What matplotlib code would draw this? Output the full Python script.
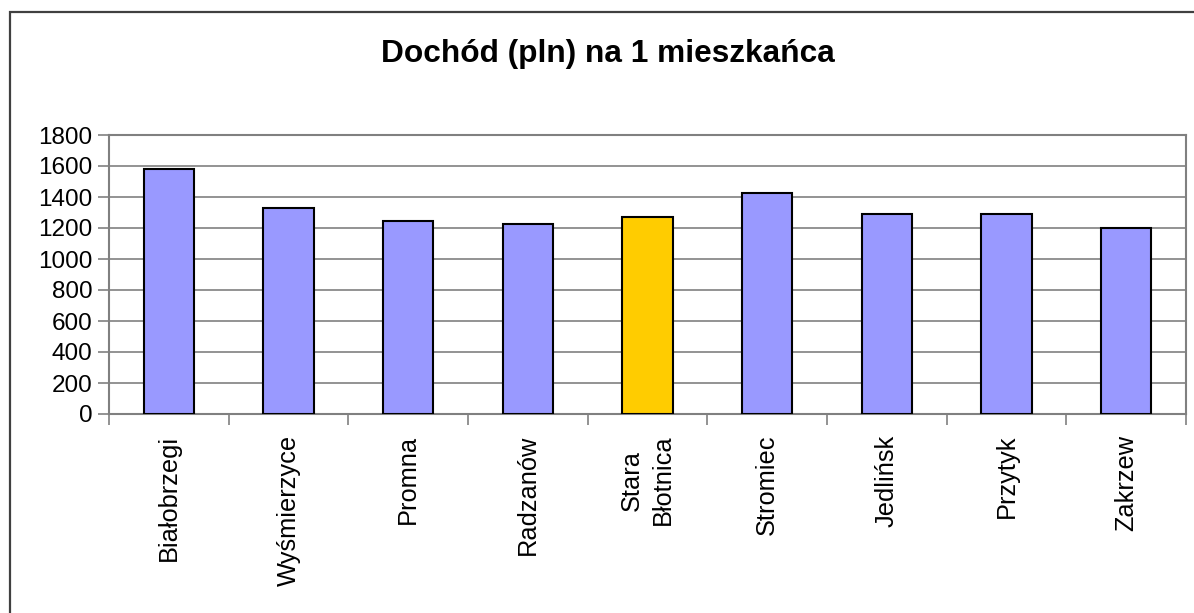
import matplotlib
matplotlib.use("Agg")
from matplotlib import pyplot as plt
from matplotlib.patches import Rectangle
import numpy as np

plt.rcParams['font.family'] = ['Liberation Sans', 'DejaVu Sans']

# data
gminy = ['Białobrzegi', 'Wyśmierzyce', 'Promna', 'Radzanów', 'Stara\nBłotnica',
         'Stromiec', 'Jedlińsk', 'Przytyk', 'Zakrzew']
dochod = [1578, 1332, 1242, 1229, 1268, 1425, 1293, 1293, 1203]
kolory = ['#9999FF', '#9999FF', '#9999FF', '#9999FF', '#FFCC00',
          '#9999FF', '#9999FF', '#9999FF', '#9999FF']
y_ticks = [0, 200, 400, 600, 800, 1000, 1200, 1400, 1600, 1800]

fig = plt.figure(figsize=(11.94, 6.13), dpi=100)

# outer frame of the chart
fig.patches.append(Rectangle((10/1194, -0.05), 1.2, (613-12)/613 + 0.05,
                             transform=fig.transFigure, fill=False,
                             edgecolor='#404040', linewidth=1.6))

ax = fig.add_axes([109/1194, (613-414)/613, (1186-109)/1194, (414-135)/613])
x = np.arange(len(gminy))
ax.bar(x, dochod, width=0.42, color=kolory, edgecolor='black', linewidth=1.5, zorder=3)

ax.set_xlim(-0.5, len(gminy) - 0.5)
ax.set_ylim(0, 1800)
ax.set_yticks(y_ticks)
ax.set_yticklabels([str(v) for v in y_ticks], fontsize=17.5)
ax.yaxis.grid(True, color='#808080', linewidth=1.2, zorder=0)

ax.set_xticks(x)
ax.set_xticklabels(gminy, rotation=90, fontsize=18.3, va='top', ha='center',
                   multialignment='center', linespacing=1.4)
ax.set_xticks(np.arange(len(gminy) + 1) - 0.5, minor=True)
ax.tick_params(axis='x', which='major', length=0, pad=15)
ax.tick_params(axis='x', which='minor', length=8, color='#808080', width=1.2)
ax.tick_params(axis='y', length=8, color='#808080', width=1.2, pad=4)

for s in ax.spines.values():
    s.set_color('#808080')
    s.set_linewidth(1.5)

fig.text(608/1194, 1 - 54/613, 'Dochód (pln) na 1 mieszkańca', ha='center', va='center',
         fontsize=22.8, fontweight='bold')

plt.savefig('out.png', dpi=100)
